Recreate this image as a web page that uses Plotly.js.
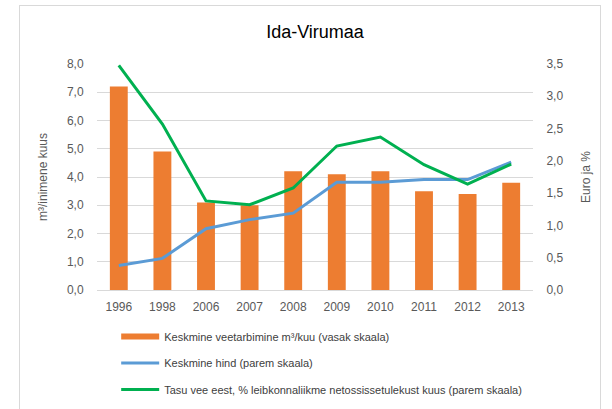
<!DOCTYPE html>
<html><head><meta charset="utf-8">
<script src="https://cdn.plot.ly/plotly-3.0.1.min.js"></script>
<style>html,body{margin:0;padding:0;background:#fff;}#frame{position:absolute;left:19px;top:5px;width:580px;height:420px;border:1px solid #d9d9d9;pointer-events:none;}</style>
</head><body>
<div id="chart" style="width:612px;height:409px;"></div>
<div id="frame"></div>
<script>
const years = ['1996','1998','2006','2007','2008','2009','2010','2011','2012','2013'];
const consumption = [7.2, 4.9, 3.1, 3.0, 4.2, 4.1, 4.2, 3.5, 3.4, 3.8];
const price = [0.38, 0.49, 0.95, 1.09, 1.19, 1.67, 1.67, 1.71, 1.71, 1.98];
const share = [3.48, 2.57, 1.38, 1.32, 1.58, 2.23, 2.37, 1.94, 1.64, 1.95];
const names = ['Keskmine veetarbimine m³/kuu (vasak skaala)', 'Keskmine hind (parem skaala)', 'Tasu vee eest, % leibkonnaliikme netossissetulekust kuus (parem skaala)'];

const FONT = 'Liberation Sans, Arial, sans-serif';
const tickFont = {family: FONT, size: 12, color: '#595959'};
const traces = [
  {type: 'bar', x: years, y: consumption, name: names[0], marker: {color: '#ED7D31'}, showlegend: false, yaxis: 'y', hoverinfo: 'skip'},
  {type: 'scatter', mode: 'lines', x: [years[0]], y: [null], name: names[0], line: {color: '#ED7D31', width: 6}, legendgroup: 'a', yaxis: 'y'},
  {type: 'scatter', mode: 'lines', x: years, y: price, name: names[1], line: {color: '#5B9BD5', width: 3}, legendgroup: 'b', yaxis: 'y2'},
  {type: 'scatter', mode: 'lines', x: years, y: share, name: names[2], line: {color: '#00B050', width: 3}, legendgroup: 'c', yaxis: 'y2'}
];
const layout = {
  width: 612, height: 409,
  margin: {l: 97, r: 79, t: 64, b: 119, autoexpand: false},
  paper_bgcolor: '#fff', plot_bgcolor: '#fff',
  separators: ', ',
  bargap: 0.59,
  title: {text: 'Ida-Virumaa', font: {family: FONT, size: 18, color: '#000'}, x: 0.5, xanchor: 'center', y: 0.922, yanchor: 'middle', xref: 'paper'},
  xaxis: {type: 'category', tickfont: tickFont, showgrid: false, showline: false, ticks: 'outside', ticklen: 6, tickcolor: 'rgba(0,0,0,0)', zeroline: false},
  yaxis: {range: [0, 8], dtick: 1, tickformat: '.1f', tickfont: tickFont, gridcolor: '#d9d9d9', gridwidth: 1, zeroline: true, zerolinecolor: '#d9d9d9', ticks: 'outside', ticklen: 10, tickcolor: 'rgba(0,0,0,0)',
    title: {text: 'm³/inimene kuus', font: {family: FONT, size: 12, color: '#595959'}, standoff: 16}},
  yaxis2: {range: [0, 3.5], dtick: 0.5, tickformat: '.1f', overlaying: 'y', side: 'right', showgrid: false, zeroline: false, tickfont: tickFont, ticks: 'outside', ticklen: 10, tickcolor: 'rgba(0,0,0,0)',
    title: {text: 'Euro ja %', font: {family: FONT, size: 12, color: '#595959'}, standoff: 19}},
  legend: {orientation: 'v', x: 0.044, xanchor: 'left', y: -0.1416, yanchor: 'top', font: {family: FONT, size: 11, color: '#404040'}, tracegroupgap: 7.5, itemwidth: 38, bgcolor: 'rgba(0,0,0,0)'},
  showlegend: true
};
Plotly.newPlot('chart', traces, layout, {displayModeBar: false, staticPlot: true});
</script>
</body></html>
